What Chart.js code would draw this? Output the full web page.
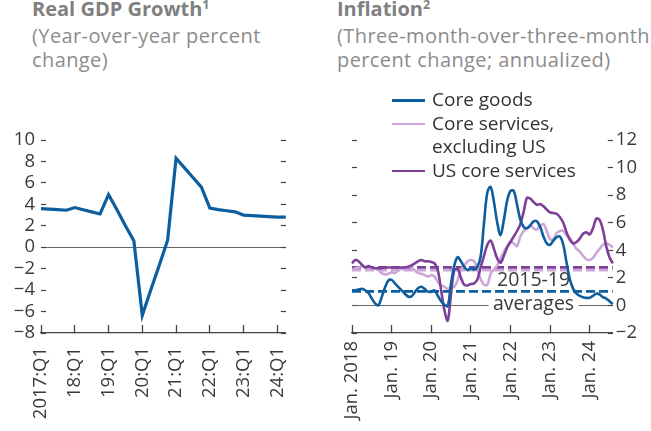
<!DOCTYPE html>
<html>
<head>
<meta charset="utf-8">
<script src="https://cdn.jsdelivr.net/npm/chart.js@4.4.1/dist/chart.umd.min.js"></script>
<style>
  body { margin: 0; background: #fff; width: 651px; height: 431px; position: relative; overflow: hidden; font-family: "Open Sans", sans-serif; }
  .ttl { position: absolute; font-weight: bold; font-size: 20px; line-height: 24px; color: #808080; white-space: nowrap; }
  .ttl sup { font-size: 12.5px; vertical-align: 7px; line-height: 0; }
  .sub { position: absolute; font-size: 20px; line-height: 24px; color: #8c8c8c; white-space: nowrap; letter-spacing: 0.4px; }
  .leg { position: absolute; left: 392px; font-size: 19px; line-height: 23.5px; color: #333; white-space: nowrap; }
  .leg i { position: absolute; left: 0; width: 33px; height: 2.6px; }
  .leg span { position: absolute; left: 40px; }
  canvas { position: absolute; top: 0; }
</style>
</head>
<body>
<div class="ttl" style="left:32px; top:-3px">Real GDP Growth<sup>1</sup></div>
<div class="sub" style="left:32px; top:24px">(Year-over-year percent<br>change)</div>
<div class="ttl" style="left:337px; top:-3px">Inflation<sup>2</sup></div>
<div class="sub" style="left:337px; top:24px">(Three-month-over-three-month<br>percent change; annualized)</div>

<canvas id="gdpChart" width="330" height="431" style="left:0"></canvas>
<canvas id="inflChart" width="321" height="431" style="left:330px"></canvas>

<div class="leg" style="top:0">
  <i style="top:99px; background:#0c5e9e"></i><span style="top:88px">Core goods</span>
  <i style="top:122.5px; background:#cba8d8"></i><span style="top:111.5px">Core services,<br>excluding US</span>
  <i style="top:169.5px; background:#7d3f98"></i><span style="top:158.5px">US core services</span>
</div>

<script>
// ---- data ----
const gdpYears = [2017, 2018, 2019, 2020, 2021, 2022, 2023, 2024];
const gdpTickLabels = ["2017:Q1", "18:Q1", "19:Q1", "20:Q1", "21:Q1", "22:Q1", "23:Q1", "24:Q1"];
const gdpGrowth = [
  3.6, 3.55, 3.5, 3.45,   // 2017
  3.7, 3.5, 3.3, 3.1,     // 2018
  4.9, 3.5, 2.0, 0.6,     // 2019
  -6.35, -4.0, -1.7, 0.65, // 2020
  8.3, 7.4, 6.5, 5.6,     // 2021
  3.65, 3.5, 3.4, 3.3,    // 2022
  3.0, 2.95, 2.9, 2.85,   // 2023
  2.8, 2.8                // 2024
];

const inflYears = [2018, 2019, 2020, 2021, 2022, 2023, 2024];
const inflTickLabels = ["Jan. 2018", "Jan. 19", "Jan. 20", "Jan. 21", "Jan. 22", "Jan. 23", "Jan. 24"];
const coreGoods = [
  1.1, 1.1, 1.15, 1.2, 1.1, 0.9, 0.5, 0.15, 0.0, 0.6, 1.3, 1.8,
  1.85, 1.6, 1.35, 1.1, 0.85, 0.65, 0.65, 0.95, 1.25, 1.35, 1.2, 1.0,
  1.0, 1.1, 0.7, 0.3, 0.05, -0.05, 1.6, 2.9, 3.5, 3.2, 2.8, 2.55,
  2.7, 2.6, 2.8, 3.6, 6.0, 8.2, 8.6, 7.5, 6.0, 5.1, 6.2, 7.6,
  8.3, 8.3, 7.3, 6.2, 5.7, 5.6, 5.8, 6.1, 6.1, 5.7, 5.0, 4.5,
  4.4, 4.7, 4.95, 5.0, 4.4, 3.1, 1.9, 1.2, 0.85, 0.7, 0.6, 0.55,
  0.55, 0.7, 0.85, 0.8, 0.6, 0.5, 0.3, 0.1
];
const servicesExUS = [
  2.6, 2.7, 2.75, 2.85, 2.8, 2.6, 2.7, 2.7, 2.55, 2.35, 2.25, 2.3,
  2.4, 2.35, 2.55, 2.65, 2.6, 2.8, 2.75, 2.55, 2.35, 2.3, 2.2, 2.1,
  2.2, 2.1, 1.7, 1.45, 1.35, 1.2, 1.35, 1.35, 1.85, 2.6, 2.9, 3.2,
  3.3, 3.2, 2.6, 1.9, 1.5, 1.5, 2.3, 2.6, 2.9, 3.4, 3.9, 4.3,
  4.6, 4.5, 4.3, 5.0, 5.4, 5.6, 5.8, 5.6, 5.5, 5.8, 5.9, 5.4,
  4.8, 4.8, 5.25, 5.4, 5.4, 5.1, 4.9, 4.5, 4.1, 3.9, 3.6, 3.35,
  3.3, 3.45, 3.8, 4.1, 4.4, 4.5, 4.4, 4.2
];
const usServices = [
  3.05, 3.3, 3.2, 2.95, 2.75, 2.85, 2.75, 2.7, 2.7, 2.7, 2.75, 2.75,
  2.75, 2.75, 2.75, 2.75, 2.75, 2.8, 2.9, 3.05, 3.2, 3.3, 3.2, 3.2,
  3.15, 3.05, 2.55, 1.1, -0.35, -1.1, 0.85, 2.55, 2.65, 2.0, 1.5, 1.45,
  1.55, 1.6, 1.9, 2.8, 3.6, 4.4, 4.7, 4.1, 3.4, 3.1, 3.6, 4.2,
  4.6, 5.0, 5.4, 5.9, 6.8, 7.8, 7.75, 7.5, 7.3, 7.35, 7.2, 6.95,
  6.75, 6.7, 6.65, 6.4, 6.0, 5.3, 4.75, 4.5, 4.6, 4.85, 5.2, 5.3,
  5.15, 5.6, 6.3, 6.2, 5.5, 4.3, 3.5, 3.05
];
// 2015-19 averages: core goods, core services ex US, US core services
const averages2015to19 = [1.02, 2.56, 2.76];

// ---- styling ----
const axisColor = "#444";
const textColor = "#3a3a3a";
const tickFont = { family: "Open Sans", size: 18.5 };
const blue = "#0c5e9e", purple = "#7d3f98", lilac = "#cba8d8";

function minusFmt(v) {
  return v < 0 ? "\u2212" + Math.abs(v) : String(v);
}

// category labels
const gdpQuarters = [];
gdpYears.forEach(y => { for (let q = 1; q <= 4; q++) gdpQuarters.push(y + ":Q" + q); });
gdpQuarters.length = gdpGrowth.length;

const inflMonths = [];
inflYears.forEach(y => { for (let m = 1; m <= 12; m++) inflMonths.push(y + "-" + m); });
inflMonths.length = coreGoods.length;

// ---- Real GDP growth chart ----
new Chart(document.getElementById("gdpChart").getContext("2d"), {
  type: "line",
  data: {
    labels: gdpQuarters,
    datasets: [{
      data: gdpGrowth,
      borderColor: blue,
      borderWidth: 3.2,
      pointRadius: 0,
      tension: 0
    }]
  },
  options: {
    responsive: false,
    animation: false,
    layout: { padding: { top: 140, left: 0, right: 0, bottom: 0 } },
    plugins: { legend: { display: false }, tooltip: { enabled: false } },
    scales: {
      x: {
        type: "category",
        offset: false,
        grid: {
          offset: false,
          drawOnChartArea: false,
          tickLength: -8,
          tickWidth: 1.3,
          tickColor: c => (c.index % 4 === 0 ? axisColor : "transparent")
        },
        border: { color: axisColor, width: 1.3 },
        ticks: {
          autoSkip: false,
          maxRotation: 90,
          minRotation: 90,
          padding: 22,
          color: textColor,
          font: tickFont,
          callback: (v, i) => (i % 4 === 0 ? gdpTickLabels[i / 4] : "")
        },
        afterFit: s => { s.height = 98; }
      },
      y: {
        min: -8,
        max: 10,
        ticks: { stepSize: 2, autoSkip: false, padding: 11, color: textColor, font: tickFont, callback: minusFmt },
        grid: {
          tickLength: -5,
          tickWidth: 1.2,
          tickColor: axisColor,
          lineWidth: 1,
          color: c => (c.tick.value === 0 ? "#666" : "transparent")
        },
        border: { display: false },
        afterFit: s => { s.width = 41; }
      },
      yRight: {
        position: "right",
        min: -8,
        max: 10,
        ticks: { stepSize: 2, autoSkip: false, display: false },
        grid: { drawOnChartArea: false, tickLength: -5, tickWidth: 1.2, tickColor: axisColor },
        border: { display: false },
        afterFit: s => { s.width = 21; }
      }
    }
  }
});

// ---- Inflation chart ----
const averagesLabel = {
  id: "averagesLabel",
  beforeDatasetsDraw(chart) {
    const { ctx } = chart;
    const x = chart.scales.x.getPixelForValue(55);
    const y0 = chart.scales.y.getPixelForValue(0);
    const y1 = chart.scales.y.getPixelForValue(1.9);
    ctx.save();
    ctx.fillStyle = "#fff";
    ctx.fillRect(x - 45, y0 - 8, 90, 16);
    ctx.fillStyle = textColor;
    ctx.font = '19.5px "Open Sans"';
    ctx.textAlign = "center";
    ctx.textBaseline = "alphabetic";
    ctx.fillText("averages", x, y0 + 5);
    ctx.fillText("2015-19", x, y1 + 7);
    ctx.restore();
  }
};

function avgLine(value, color) {
  return {
    data: inflMonths.map(() => value),
    borderColor: color,
    borderWidth: 2.6,
    borderDash: [9, 4],
    pointRadius: 0,
    tension: 0
  };
}

new Chart(document.getElementById("inflChart").getContext("2d"), {
  type: "line",
  data: {
    labels: inflMonths,
    datasets: [
      { data: coreGoods, borderColor: blue, borderWidth: 2.6, pointRadius: 0, tension: 0.35 },
      { data: usServices, borderColor: purple, borderWidth: 2.6, pointRadius: 0, tension: 0.35 },
      { data: servicesExUS, borderColor: lilac, borderWidth: 2.6, pointRadius: 0, tension: 0.35 },
      avgLine(averages2015to19[0], blue),
      avgLine(averages2015to19[2], purple),
      avgLine(averages2015to19[1], lilac)
    ]
  },
  options: {
    responsive: false,
    animation: false,
    layout: { padding: { top: 140, left: 0, right: 0, bottom: 0 } },
    plugins: { legend: { display: false }, tooltip: { enabled: false } },
    scales: {
      x: {
        type: "category",
        offset: false,
        grid: {
          offset: false,
          drawOnChartArea: false,
          tickLength: -8,
          tickWidth: 1.3,
          tickColor: c => (c.index % 12 === 0 ? axisColor : "transparent")
        },
        border: { color: axisColor, width: 1.3 },
        ticks: {
          autoSkip: false,
          maxRotation: 90,
          minRotation: 90,
          padding: 16,
          color: textColor,
          font: tickFont,
          callback: (v, i) => (i % 12 === 0 ? inflTickLabels[i / 12] : "")
        },
        afterFit: s => { s.height = 98; }
      },
      yLeft: {
        position: "left",
        min: -2,
        max: 12,
        ticks: { stepSize: 2, autoSkip: false, display: false },
        grid: { drawOnChartArea: false, tickLength: -5, tickWidth: 1.2, tickColor: axisColor },
        border: { display: false },
        afterFit: s => { s.width = 22; }
      },
      y: {
        position: "right",
        min: -2,
        max: 12,
        ticks: { stepSize: 2, autoSkip: false, padding: 8, color: textColor, font: tickFont, callback: minusFmt },
        grid: {
          tickLength: -5,
          tickWidth: 1.2,
          tickColor: axisColor,
          lineWidth: 1,
          color: c => (c.tick.value === 0 ? "#666" : "transparent")
        },
        border: { display: false },
        afterFit: s => { s.width = 31; }
      }
    }
  },
  plugins: [averagesLabel]
});
</script>
</body>
</html>
